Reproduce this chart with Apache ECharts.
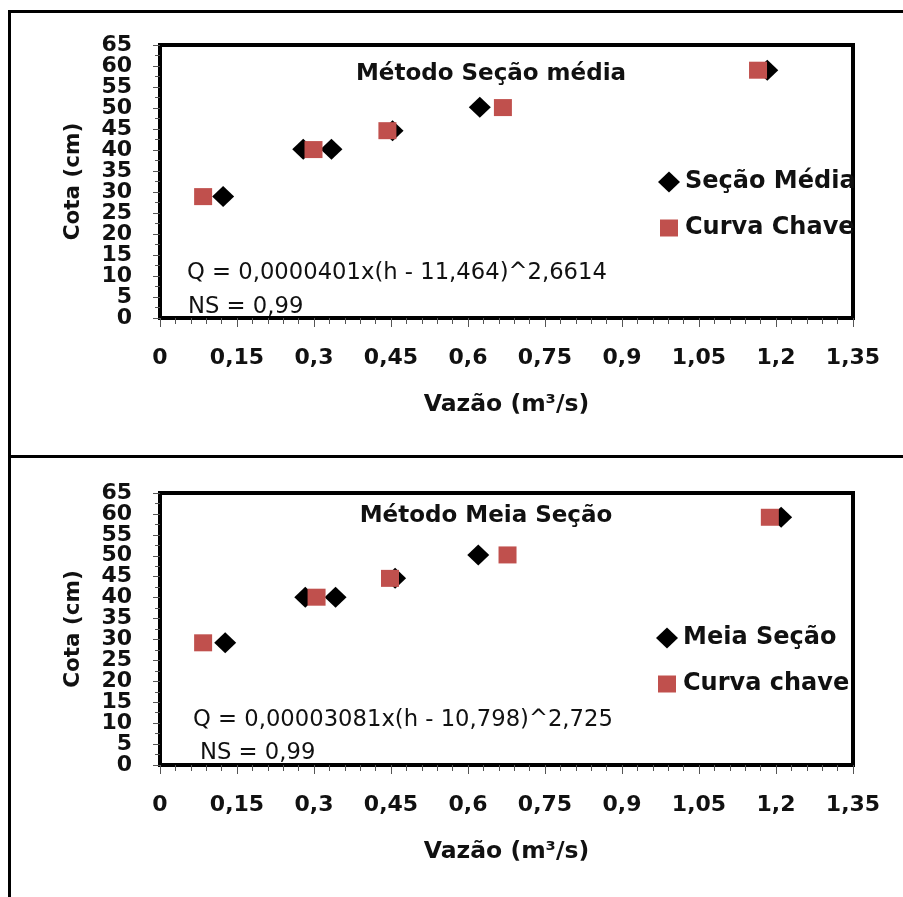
<!DOCTYPE html>
<html>
<head>
<meta charset="utf-8">
<script src="https://cdn.jsdelivr.net/npm/echarts@6/dist/echarts.min.js"></script>
<style>html,body{margin:0;padding:0;background:#fff}#c{width:903px;height:897px}</style>
</head>
<body>
<div id="c"></div>
<script>
// ---- data ----
const xTickInterval = 0.15;   // Vazão ticks: 0, 0,15 ... 1,35
const yTickInterval = 5;      // Cota ticks: 0, 5 ... 65
const xMax = 1.35;
const yMax = 65;

// Top chart: Método Seção média
const topTitle = 'Método Seção média';
const topSeriesNames = ['Seção Média', 'Curva Chave'];
const vazaoSecaoMedia = [0.123, 0.279, 0.334, 0.453, 0.623, 1.183];
const cotaSecaoMedia  = [28.9, 40.2, 40.2, 44.6, 50.2, 59.0];
const vazaoCurvaChave1 = [0.084, 0.299, 0.443, 0.668, 1.165];
const cotaCurvaChave1  = [28.9, 40.1, 44.6, 50.1, 59.0];
const topEquation = 'Q = 0,0000401x(h - 11,464)^2,6614';
const topNS = 'NS = 0,99';

// Bottom chart: Método Meia Seção
const bottomTitle = 'Método Meia Seção';
const bottomSeriesNames = ['Meia Seção', 'Curva chave'];
const vazaoMeiaSecao = [0.127, 0.283, 0.342, 0.458, 0.620, 1.210];
const cotaMeiaSecao  = [29.2, 40.1, 40.1, 44.6, 50.2, 59.2];
const vazaoCurvaChave2 = [0.084, 0.305, 0.448, 0.677, 1.188];
const cotaCurvaChave2  = [29.2, 40.1, 44.6, 50.2, 59.2];
const bottomEquation = 'Q = 0,00003081x(h - 10,798)^2,725';
const bottomNS = 'NS = 0,99';

const xAxisName = 'Vazão (m³/s)';
const yAxisName = 'Cota (cm)';

// ---- build ----
const pairs = (xs, ys) => xs.map((x, i) => [x, ys[i]]);
const RED = '#C0504D';
const DJ = '"DejaVu Sans"';
const fmtX = v => String(Math.round(v * 100) / 100).replace('.', ',');
const yLabelStyle = { margin: 28, fontFamily: DJ, fontWeight: 'bold', fontSize: 22, color: '#111', hideOverlap: false };

function xAxis(gi) {
  return {
    type: 'value', gridIndex: gi, min: 0, max: xMax, interval: xTickInterval,
    name: xAxisName, nameLocation: 'middle', nameGap: 75,
    nameTextStyle: { fontFamily: DJ, fontWeight: 'bold', fontSize: 23.5, color: '#111' },
    axisLine: { show: true, lineStyle: { color: '#000', width: 4 } },
    axisTick: { show: true, length: 9, lineStyle: { color: '#555', width: 1 } },
    minorTick: { show: true, splitNumber: 5, length: 6, lineStyle: { color: '#555', width: 1 } },
    splitLine: { show: false },
    axisLabel: { formatter: fmtX, margin: 29, fontFamily: DJ, fontWeight: 'bold', fontSize: 22, color: '#111',
      showMinLabel: true, showMaxLabel: true, hideOverlap: false }
  };
}
// main y axis: line, ticks, name, and labels incl. min/max
function yAxis(gi) {
  return {
    type: 'value', gridIndex: gi, min: 0, max: yMax, interval: yTickInterval, position: 'left',
    name: yAxisName, nameLocation: 'middle', nameGap: 76, nameRotate: 90,
    nameTextStyle: { fontFamily: DJ, fontWeight: 'bold', fontSize: 21.5, color: '#111' },
    axisLine: { show: true, lineStyle: { color: '#000', width: 4 } },
    axisTick: { show: true, length: 7, lineStyle: { color: '#555', width: 1 } },
    minorTick: { show: true, splitNumber: 2, length: 5, lineStyle: { color: '#555', width: 1 } },
    splitLine: { show: false },
    axisLabel: Object.assign({ showMinLabel: true, showMaxLabel: true }, yLabelStyle)
  };
}
// companion y axis on the same grid: only the labels next to min/max,
// which the library hides on the main axis because the dense labels touch
function yAxisInner(gi) {
  return {
    type: 'value', gridIndex: gi, min: 0, max: yMax, interval: yTickInterval, position: 'left', offset: 0,
    axisLine: { show: false }, axisTick: { show: false }, minorTick: { show: false }, splitLine: { show: false },
    axisLabel: Object.assign({ showMinLabel: false, showMaxLabel: false,
      formatter: v => (v === yTickInterval || v === yMax - yTickInterval) ? String(v) : '' }, yLabelStyle)
  };
}
function diamondSeries(name, gi, data) {
  return { name, type: 'scatter', xAxisIndex: gi, yAxisIndex: gi, data, symbol: 'diamond',
    symbolSize: [22, 21], itemStyle: { color: '#000', opacity: 1 }, z: 2 };
}
function squareSeries(name, gi, data) {
  return { name, type: 'scatter', xAxisIndex: gi, yAxisIndex: gi, data, symbol: 'rect',
    symbolSize: [18, 17], itemStyle: { color: RED, opacity: 1 }, z: 3 };
}
const DIAMOND_ICON = 'path://M11,0 L22,10.5 L11,21 L0,10.5 Z';
const SQUARE_ICON = 'path://M0,0 M22,21 M2,2 L20,2 L20,19 L2,19 Z';
function legend(names, left, top) {
  return {
    orient: 'vertical', left, top, itemWidth: 22, itemHeight: 21, itemGap: 22,
    itemTextGap: 3,
    data: [{ name: names[0], icon: DIAMOND_ICON }, { name: names[1], icon: SQUARE_ICON }],
    textStyle: { fontFamily: DJ, fontWeight: 'bold', fontSize: 24, color: '#111' }
  };
}
function txt(text, x, y, font, align) {
  return { type: 'text', x, y, z: 10, style: { text, font, fill: '#111', align: align || 'left', verticalAlign: 'top' } };
}
function hline(x1, x2, y) { return { type: 'line', z: 20, shape: { x1, y1: y, x2, y2: y }, style: { stroke: '#000', lineWidth: 3 } }; }
function vline(x, y1, y2) { return { type: 'line', z: 20, shape: { x1: x, y1, x2: x, y2 }, style: { stroke: '#000', lineWidth: 3 } }; }

const chart = echarts.init(document.getElementById('c'), null, { renderer: 'canvas' });
chart.setOption({
  backgroundColor: '#fff',
  animation: false,
  grid: [
    { left: 160, top: 45, width: 693, height: 273, show: true, borderColor: '#000', borderWidth: 4, backgroundColor: 'transparent' },
    { left: 160, top: 493, width: 693, height: 272, show: true, borderColor: '#000', borderWidth: 4, backgroundColor: 'transparent' }
  ],
  xAxis: [xAxis(0), xAxis(1)],
  yAxis: [yAxis(0), yAxis(1), yAxisInner(0), yAxisInner(1)],
  legend: [legend(topSeriesNames, 653, 165), legend(bottomSeriesNames, 651, 621)],
  series: [
    diamondSeries(topSeriesNames[0], 0, pairs(vazaoSecaoMedia, cotaSecaoMedia)),
    squareSeries(topSeriesNames[1], 0, pairs(vazaoCurvaChave1, cotaCurvaChave1)),
    diamondSeries(bottomSeriesNames[0], 1, pairs(vazaoMeiaSecao, cotaMeiaSecao)),
    squareSeries(bottomSeriesNames[1], 1, pairs(vazaoCurvaChave2, cotaCurvaChave2))
  ],
  graphic: [
    txt(topTitle, 491, 63, 'bold 23px ' + DJ, 'center'),
    txt(bottomTitle, 486, 505, 'bold 23px ' + DJ, 'center'),
    txt(topEquation, 187, 262, 'normal 22.7px ' + DJ),
    txt(topNS, 188, 296, 'normal 22.7px ' + DJ),
    txt(bottomEquation, 193, 709, 'normal 22.7px ' + DJ),
    txt(bottomNS, 200, 742, 'normal 22.7px ' + DJ),
    hline(8, 903, 11.5),
    vline(9.5, 10, 897),
    hline(8, 903, 456.5)
  ]
});
</script>
</body>
</html>
